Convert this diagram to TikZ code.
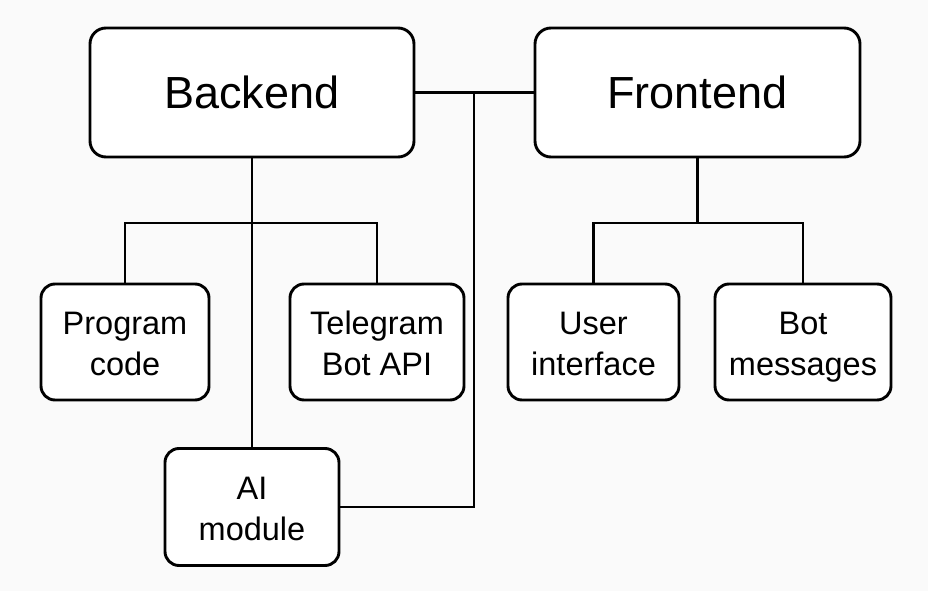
\documentclass[tikz,border=0pt]{standalone}
\usepackage{fontspec}
\setmainfont{Liberation Sans}
\newcommand{\ls}{\rule[-8pt]{0pt}{41pt}}
\begin{document}
\begin{tikzpicture}[x=1pt,y=-1pt,
  bigbox/.style={draw=black, line width=2.9pt, rounded corners=16pt, fill=white,
    minimum width=324pt, minimum height=129pt, inner sep=0pt,
    font=\fontsize{45}{50}\selectfont},
  smallbox/.style={draw=black, line width=2.9pt, rounded corners=14pt, fill=white,
    minimum height=116pt, inner sep=0pt, align=center,
    font=\fontsize{32.5}{41}\selectfont},
  wire/.style={draw=black, line width=2.7pt}]
\fill[fill=black!2] (0,0) rectangle (928,591);
\useasboundingbox (0,0) rectangle (928,591);

\node[bigbox] (be) at (252,92.5) {Backend};
\node[bigbox, minimum width=325pt] (fe) at (697.5,92.5) {Frontend};
\node[smallbox, minimum width=168pt] (pc) at (125,342) {\ls Program\\\ls code};
\node[smallbox, minimum width=174pt] (tg) at (377,342) {\ls Telegram\\\ls Bot API};
\node[smallbox, minimum width=174pt, minimum height=117pt] (ai) at (252,507) {\ls AI\\\ls module};
\node[smallbox, minimum width=171pt] (ui) at (593.5,342) {\ls User\\\ls interface};
\node[smallbox, minimum width=176pt] (bm) at (803,342) {\ls Bot\\\ls messages};

\coordinate (bj) at (252,223);
\coordinate (fj) at (697.5,223);
\coordinate (mj) at (474,92.5);

\draw[wire] (be.south) -- (ai.north);
\draw[wire] (pc.north) |- (bj) -| (tg.north);
\draw[wire] (be.east) -- (fe.west);
\draw[wire] (mj) |- (ai.east);
\draw[wire] (fe.south) -- (fj);
\draw[wire] (ui.north) |- (fj) -| (bm.north);
\end{tikzpicture}
\end{document}
